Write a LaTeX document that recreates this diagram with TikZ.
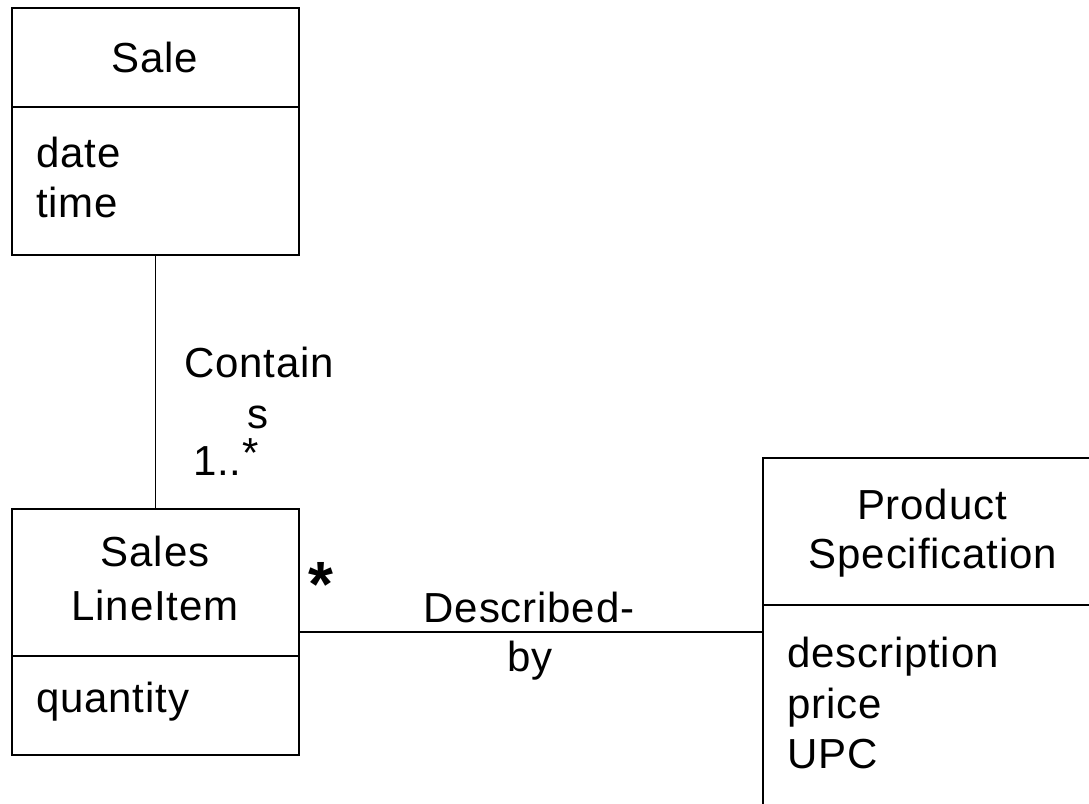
\documentclass[tikz,border=0pt]{standalone}
\usepackage{fontspec}
\setmainfont{Liberation Sans}[LetterSpace=2]
\begin{document}
\begin{tikzpicture}[x=1pt,y=-1pt,
  comp/.style={draw,line width=1.6pt,inner sep=0pt,minimum width=287pt},
  lbl/.style={inner sep=0pt,font=\fontsize{42}{50}\selectfont},
  conn/.style={line width=1.3pt}]
\clip (0,0) rectangle (1089,803);
\fill[white] (0,0) rectangle (1089,803);
% Sale
\node[comp,minimum height=99pt] (saleT) at (155.5,57.5) {};
\node[comp,minimum height=148pt] (saleB) at (155.5,181) {};
% Sales LineItem
\node[comp,minimum height=147pt] (sliT) at (155.5,582.5) {};
\node[comp,minimum height=99pt] (sliB) at (155.5,705.5) {};
% Product Specification
\node[comp,minimum width=337pt,minimum height=147pt] (psT) at (931.5,531.5) {};
\node[comp,minimum width=337pt,minimum height=215pt] (psB) at (931.5,712.5) {};
% texts
\node[lbl,anchor=base] (tSale) at (155,72) {Sale};
\node[lbl,anchor=base west] (tDate) at (36,167) {date};
\node[lbl,anchor=base west] (tTime) at (36,217) {time};
\node[lbl,anchor=base] (tSales) at (155,566) {Sales};
\node[lbl,anchor=base] (tLine) at (155,620) {LineItem};
\node[lbl,anchor=base west] (tQty) at (36,712) {quantity};
\node[lbl,anchor=base] (tProd) at (932,519) {Product};
\node[lbl,anchor=base] (tSpec) at (933,568) {Specification};
\node[lbl,anchor=base west] (tDesc) at (787,667) {description};
\node[lbl,anchor=base west] (tPrice) at (787,718) {price};
\node[lbl,anchor=base west] (tUPC) at (787,768) {UPC};
% connectors
\draw[conn] (saleB.south) -- (sliT.north);
\coordinate (dby) at (530,632);
\draw[conn] (dby -| sliT.east) -- (dby -| psT.west);
% association labels
\node[lbl,anchor=base] (tCont) at (259,377) {Contain};
\node[lbl,anchor=base] (tS) at (258,428) {s};
\node[lbl,anchor=base west] (tMult) at (193,475) {1..};
\node[lbl,anchor=base] (tStar) at (251,467) {*};
\node[lbl,anchor=center,font=\fontsize{64}{70}\bfseries] (tStar2) at (321,584) {*};
\node[lbl,anchor=base] (tDesc2) at (529,622) {Described-};
\node[lbl,anchor=base] (tBy) at (530,671) {by};
\end{tikzpicture}
\end{document}
